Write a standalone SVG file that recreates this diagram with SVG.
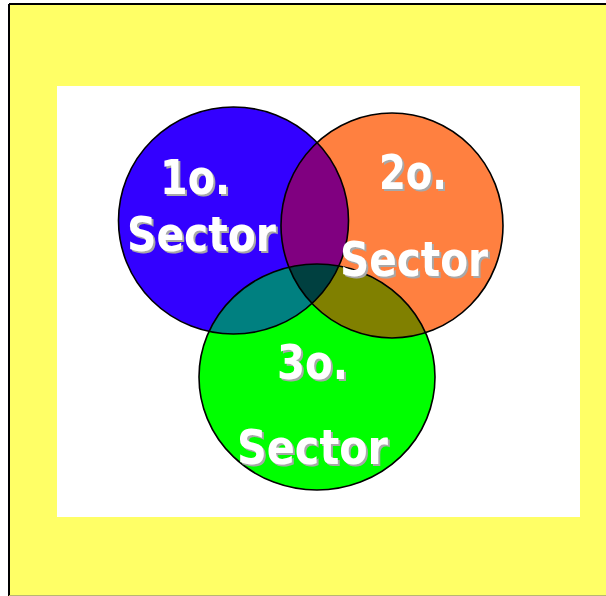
<svg xmlns="http://www.w3.org/2000/svg" width="606" height="596" viewBox="0 0 606 596">
<defs>
<style>
.lbl{font-family:"DejaVu Sans","Verdana",sans-serif;font-weight:bold;font-size:48px;fill:#ffffff;filter:url(#shadow)}
.edge{fill:none;stroke:#000000;stroke-width:1.6}
</style>
<filter id="shadow" x="-10%" y="-10%" width="130%" height="130%">
<feFlood flood-color="#a8a8a8"/>
<feComposite in2="SourceAlpha" operator="in"/>
<feOffset dx="2" dy="2" result="sh"/>
<feMerge><feMergeNode in="sh"/><feMergeNode in="SourceGraphic"/></feMerge>
</filter>
<clipPath id="cBlue"><ellipse cx="233.5" cy="220.5" rx="115" ry="113.5"/></clipPath>
<clipPath id="cOrange"><ellipse cx="392" cy="225.5" rx="111" ry="112.5"/></clipPath>
<clipPath id="cBG" clip-path="url(#cBlue)"><ellipse cx="317" cy="377" rx="118" ry="113"/></clipPath>
</defs>
<rect x="0" y="0" width="606" height="596" fill="#ffffff"/>
<rect x="9" y="4" width="597" height="591" fill="#ffff66"/>
<line x1="9" y1="4" x2="606" y2="4" stroke="#000" stroke-width="2"/>
<line x1="9" y1="4" x2="9" y2="596" stroke="#000" stroke-width="2"/>
<line x1="9" y1="595.5" x2="606" y2="595.5" stroke="#b8b870" stroke-width="1"/>
<rect x="57" y="86" width="523" height="431" fill="#ffffff"/>
<g id="sector1"><ellipse cx="233.5" cy="220.5" rx="115" ry="113.5" fill="#3300ff"/></g>
<g id="sector2"><ellipse cx="392" cy="225.5" rx="111" ry="112.5" fill="#ff8040"/></g>
<g id="sector3"><ellipse cx="317" cy="377" rx="118" ry="113" fill="#00ff00"/></g>
<g id="overlaps">
<ellipse cx="392" cy="225.5" rx="111" ry="112.5" fill="#800080" clip-path="url(#cBlue)"/>
<ellipse cx="317" cy="377" rx="118" ry="113" fill="#008080" clip-path="url(#cBlue)"/>
<ellipse cx="317" cy="377" rx="118" ry="113" fill="#808000" clip-path="url(#cOrange)"/>
<ellipse cx="392" cy="225.5" rx="111" ry="112.5" fill="#004040" clip-path="url(#cBG)"/>
</g>
<g id="outlines">
<ellipse class="edge" cx="233.5" cy="220.5" rx="115" ry="113.5"/>
<ellipse class="edge" cx="392" cy="225.5" rx="111" ry="112.5"/>
<ellipse class="edge" cx="317" cy="377" rx="118" ry="113"/>
</g>
<g id="labels">
<text class="lbl" x="160" y="194" textLength="70" lengthAdjust="spacingAndGlyphs">1o.</text>
<text class="lbl" x="127" y="251" textLength="149" lengthAdjust="spacingAndGlyphs">Sector</text>
<text class="lbl" x="379" y="189" textLength="68" lengthAdjust="spacingAndGlyphs">2o.</text>
<text class="lbl" x="340" y="276" textLength="148" lengthAdjust="spacingAndGlyphs">Sector</text>
<text class="lbl" x="277" y="379" textLength="71" lengthAdjust="spacingAndGlyphs">3o.</text>
<text class="lbl" x="237" y="464" textLength="151" lengthAdjust="spacingAndGlyphs">Sector</text>
</g>
</svg>
